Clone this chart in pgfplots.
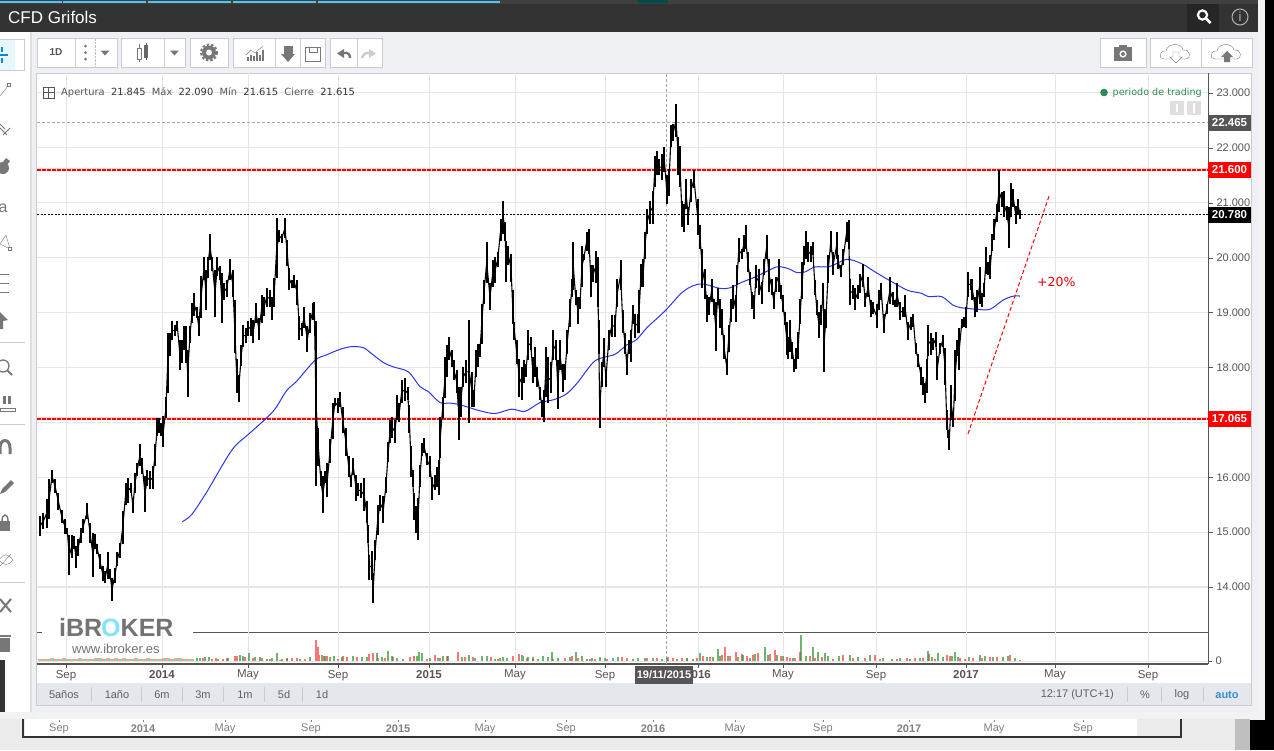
\documentclass[border=0pt]{standalone}
\usepackage{fontspec}
\usepackage{pgfplots}
\usepackage{pgfplotstable}
\pgfplotsset{compat=1.18}
\setmainfont{Liberation Sans}
\newfontfamily\dejavu{DejaVu Sans}
\newcommand\fs[1]{\fontsize{#1}{#1}\selectfont}

\definecolor{topbar}{HTML}{333333}
\definecolor{panelbg}{HTML}{EEF0F4}
\definecolor{btnline}{HTML}{C9CBCF}
\definecolor{icon}{HTML}{777777}
\definecolor{gridc}{HTML}{E6E6E6}
\definecolor{axisc}{HTML}{555555}
\definecolor{rangebar}{HTML}{E4E7EC}
\definecolor{mablue}{HTML}{2A35F0}
\definecolor{volred}{HTML}{FF3A3A}
\definecolor{volgreen}{HTML}{2F9632}
\definecolor{tradegreen}{HTML}{2E8B57}
\definecolor{cyanlogo}{HTML}{7FE3FA}

% daily range of the price, x is the position on the time axis
\pgfplotstableread{
x lo hi
40 14.93 15.29
43.3 15.05 15.35
46.7 15.08 15.60
49 15.23 15.96
52 15.90 16.14
55 15.72 15.96
58.3 15.41 15.72
61.7 15.17 15.41
65 14.96 15.23
67.3 14.96 15.08
69.3 14.22 14.94
71.7 14.53 14.94
74 14.69 14.93
76 14.35 14.75
78.3 14.57 14.87
80.7 14.81 15.08
83.3 14.99 15.23
87.3 15.23 15.53
90 14.81 15.17
93 14.18 14.99
95 14.69 14.96
97.3 14.60 14.78
100 14.32 14.60
102.7 14.11 14.38
105.3 14.08 14.29
107.7 14.14 14.64
110 14.14 14.32
112 13.75 14.17
115 14.08 14.35
117.3 14.38 14.63
120 14.53 14.81
122.7 14.78 15.38
125.7 15.50 15.90
128.3 15.53 15.99
130.7 15.72 15.90
133 15.34 15.63
135 15.72 16.08
137.3 16.02 16.26
140 16.20 16.61
142.3 16.05 16.35
145 15.37 16.02
147.3 15.84 16.14
150 15.78 16.11
152.7 15.78 16.20
155 16.20 16.60
157.3 16.75 17.08
159.3 16.81 17.08
161.3 16.75 16.99
163.3 16.55 17.11
166 17.08 17.47
167.7 17.54 18.63
170 18.20 18.63
172.3 18.50 18.84
175 18.57 18.78
177.3 18.66 18.84
180 17.96 18.50
182.3 18.08 18.50
184 18.32 18.75
186 18.08 18.75
187.7 17.47 18.32
190 18.44 18.75
192 18.81 19.17
194.3 18.93 19.35
196.7 18.90 19.11
198.7 18.57 18.93
201 18.90 19.66
204 19.60 20.02
205.7 19.05 19.78
207.7 19.63 20.02
210 19.96 20.44
212.3 19.75 20.02
215 18.92 19.78
217.3 19.66 20.02
220 19.60 19.84
221.7 18.81 19.72
224 19.23 19.53
226.7 19.29 19.60
230 19.60 19.97
232.7 19.29 19.78
234.7 18.26 19.23
236.7 17.53 18.15
238.7 17.37 17.87
241.3 18.02 18.41
243.3 18.38 18.78
245.7 18.44 18.72
248.3 18.57 18.84
250.7 18.57 18.90
253.3 18.44 18.87
256 18.81 19.17
259 18.50 18.90
261.7 18.81 19.32
264 18.93 19.29
266.7 19.11 19.44
270 19.11 19.41
272.3 18.87 19.29
274.3 19.11 19.63
276.7 19.63 20.72
279.3 20.29 20.50
281.7 20.26 20.44
285 20.35 20.72
287.3 19.84 20.32
289.3 19.41 19.81
291.7 19.44 19.60
294 19.44 19.69
297.3 19.14 19.60
299.3 18.50 18.93
301.7 18.57 18.81
304 18.72 19.11
307.3 18.28 18.75
310 18.63 18.99
312.7 18.87 19.17
314.3 18.96 19.20
316 15.84 18.84
318.3 16.20 16.90
320.7 15.84 16.11
322.7 15.35 16.02
325.3 15.90 16.11
327.3 15.64 16.26
330 16.26 16.69
332.7 16.69 17.35
335 17.29 17.44
337.7 17.17 17.44
340 17.28 17.56
342.7 16.80 17.28
346 16.38 16.89
348.7 16.01 16.38
350.7 15.83 16.04
353.3 16.04 16.35
356 15.56 16.04
358.3 15.65 15.89
360.7 15.62 15.89
364 15.38 15.98
366.7 15.16 15.56
367.7 14.80 15.13
369.3 14.13 14.59
371.7 14.13 14.65
373.3 13.71 14.25
375.3 14.50 14.86
377.7 14.95 15.50
380 15.38 15.68
383.3 15.16 15.65
386 15.71 16.01
388.3 16.28 16.65
390 16.62 17.04
392.3 16.71 17.10
395 16.62 17.04
397.3 17.04 17.50
399.3 17.01 17.35
401.7 17.35 17.77
405 17.38 17.80
407.7 17.41 17.65
409.3 16.80 17.32
411 16.01 16.56
412.7 15.83 16.13
414 15.22 15.71
416 14.98 15.47
418 14.86 15.62
420 15.83 16.22
422 16.38 16.62
424 16.44 16.71
426.7 16.22 16.44
430 16.01 16.38
432.3 15.59 16.01
435 15.77 16.04
437.3 15.83 16.19
439 15.68 16.31
440.3 16.35 17.10
442.7 17.07 17.47
445 17.44 18.19
446.7 17.83 18.40
449 18.13 18.56
451.7 18.01 18.31
454 17.77 18.13
456.7 17.53 17.95
458.7 16.68 17.65
460.7 17.10 17.65
463.3 17.65 18.01
466 17.71 18.13
469.3 16.98 18.86
471.7 17.28 17.92
474 17.28 17.59
476 17.83 18.31
478.3 18.01 18.43
480 18.19 18.43
481.7 18.43 19.16
484 19.16 19.59
486.7 19.53 20.28
490 19.04 19.53
492.7 19.47 19.95
495 19.53 20.01
497.7 19.83 20.10
500.7 20.31 20.71
503.3 20.44 21.04
505 20.31 20.65
506 19.56 20.31
508.3 19.86 20.22
511 19.56 20.07
512.7 18.80 19.41
514.3 18.50 18.83
516.7 18.07 18.50
519.3 17.47 18.16
521.7 17.41 18.01
524 17.71 18.13
526 17.83 18.07
528.3 18.13 18.68
530.7 18.31 18.56
532.7 17.71 18.19
535 17.83 18.37
537.3 17.65 18.01
540 17.41 17.65
542.3 17.10 17.41
544 17.01 17.59
545.7 17.47 18.37
548.3 17.35 18.19
550.7 17.53 18.10
553.3 18.13 18.68
556 18.13 18.50
557.7 17.25 18.13
560 17.95 18.50
562.7 17.56 18.07
565 17.77 18.07
567.3 18.25 18.68
570 18.74 19.25
571.7 19.28 19.62
573.3 19.41 20.28
575.7 19.13 19.41
578 18.80 19.28
580 19.07 19.28
582 19.47 20.22
584 19.95 20.07
586.7 20.13 20.47
589 20.07 20.53
591 19.28 19.86
593.3 19.56 19.86
595.7 19.53 20.13
597.7 19.10 20.01
598.7 18.25 18.86
599.7 16.89 17.59
601.7 17.65 18.10
603.7 18.01 18.53
606 17.65 17.98
608.7 18.31 18.68
611.7 18.56 18.95
615 18.56 18.95
617.3 19.10 19.62
620.7 19.41 19.96
622.7 18.62 19.04
625 18.25 18.62
626.7 17.86 18.25
628.7 18.25 18.50
630.7 18.10 18.68
632.7 18.80 19.13
635 18.53 18.98
637.7 18.62 18.98
639 18.62 19.41
641 19.47 19.89
643.3 19.47 19.98
645 19.98 20.47
647.3 20.44 20.89
650 20.62 21.04
652.7 20.62 21.22
654.7 21.29 21.86
656.7 21.50 21.95
659.3 21.50 21.80
661.7 21.41 21.89
664.3 21.56 22.01
666.7 20.98 21.50
669 21.13 21.62
671 22.01 22.41
673.3 22.13 22.44
676 22.19 22.80
678.3 21.50 22.19
680 21.29 22.04
682 20.56 21.04
684 20.47 20.98
686 20.89 21.44
688.3 20.59 20.92
691 21.01 21.44
694 21.26 21.59
697.7 20.41 21.07
700 20.16 20.59
702.3 19.44 20.16
705 19.25 19.80
707.3 18.83 19.32
709.3 18.95 19.29
711.7 19.20 19.62
714 18.95 19.25
715.7 18.30 19.19
717.7 19.13 19.44
720 18.71 19.25
722 18.59 19.07
724 18.16 18.59
726.7 17.86 18.16
728.7 18.29 18.77
731 18.83 19.25
733.3 19.07 19.50
735.7 18.82 19.32
737.3 19.50 19.86
738.7 19.92 20.35
741.7 19.98 20.16
744 20.10 20.41
745.7 20.16 20.59
747.7 19.74 20.10
750 19.50 19.74
752 19.07 19.38
754 18.89 19.32
756 19.44 19.86
759 19.32 19.80
761.7 19.16 19.56
764 19.68 19.98
766.7 19.98 20.41
769 19.38 19.98
771.7 19.32 19.62
773.7 19.06 19.38
776 19.38 19.65
778.7 19.38 19.98
780.7 19.25 19.50
782.7 19.01 19.32
784.7 18.77 19.01
786.7 18.23 18.83
788.3 18.16 18.56
790.3 18.29 18.86
792.3 18.16 18.47
794.3 17.92 18.16
796.3 17.98 18.35
798.3 18.16 18.65
800.3 18.80 19.25
802.3 19.25 19.92
804.3 19.86 20.22
806 19.98 20.48
808.3 19.92 20.29
810.7 19.92 20.22
812.7 20.04 20.29
815 19.32 19.59
816.7 18.95 19.23
819 18.53 19.01
821.3 18.77 19.13
823.3 19.20 19.53
824.3 17.92 19.07
826 18.71 19.07
828.3 19.53 20.04
830.7 20.10 20.48
833.3 19.68 20.10
836.7 19.98 20.46
838.3 19.80 20.04
840.7 19.65 19.86
843.3 19.86 20.16
846.7 20.29 20.65
848.7 20.16 20.68
850 19.13 19.62
853.3 19.25 19.50
855.3 19.04 19.44
858 19.25 19.50
860 19.35 19.71
862.7 19.47 19.89
865.3 19.10 19.35
868.3 19.29 19.65
870.7 18.92 19.22
873.3 18.98 19.19
876.7 18.71 19.16
878.7 19.04 19.41
881.3 19.23 19.53
883.7 18.62 18.98
886.7 18.98 19.16
890 19.16 19.65
892.7 19.13 19.38
895 19.10 19.23
897.3 19.10 19.53
900 18.86 19.19
902.7 18.92 19.10
905 18.92 19.32
907.7 18.50 18.83
910.7 18.68 18.92
913.3 18.74 18.98
915.7 18.25 18.44
918.3 18.01 18.25
921 17.68 18.01
923.3 17.50 17.83
924.7 17.35 17.71
926.7 17.53 18.16
928.3 18.20 18.77
930.7 18.23 18.62
933.3 18.32 18.53
935.7 18.38 18.65
937.3 17.77 18.20
940 18.25 18.44
942.7 18.38 18.59
945 17.68 18.35
946.7 16.86 17.23
948.3 16.71 16.86
949.3 16.49 16.86
951 17.04 17.68
953.3 16.92 17.16
955 17.38 18.32
957.3 18.20 18.50
959.3 17.95 18.71
961.7 18.71 18.89
964 18.74 18.92
966 18.71 19.10
968.3 19.29 19.74
970.7 19.41 19.62
972.3 19.23 19.62
975 18.92 19.29
977.3 19.01 19.41
979.7 19.16 19.83
981.7 19.10 19.35
984 19.29 19.53
986 19.71 20.19
988.3 19.68 19.92
990.3 19.62 20.04
992.3 20.13 20.44
994.3 20.32 20.71
996.7 20.65 20.98
999 20.83 21.59
1001.7 20.92 21.19
1004 20.74 21.22
1006.7 20.68 20.95
1009 20.18 20.92
1011 20.74 21.36
1013.3 20.92 21.25
1015.7 20.62 20.95
1018.3 20.80 21.07
1020 20.71 20.86
}\bars

% moving average
\pgfplotstableread{
x y
182.3 15.19
191.7 15.32
206.7 15.73
231.7 16.49
248.3 16.78
266.7 17.08
275.7 17.26
286.7 17.58
296.7 17.75
315 18.13
326.7 18.23
340 18.33
351.7 18.38
363.3 18.36
371.7 18.25
383.3 18.09
393.3 18.01
408.3 17.92
420 17.65
428.3 17.56
440 17.36
450 17.35
460 17.32
480 17.21
495 17.16
511.7 17.24
525 17.20
540 17.36
553.3 17.41
566.7 17.52
578.3 17.74
595 18.12
615 18.24
626.7 18.41
636.7 18.51
646.7 18.72
665 19.03
681.7 19.36
693.3 19.49
703.3 19.52
720 19.44
730 19.45
741.7 19.55
756.7 19.66
776.7 19.83
788.3 19.80
796.7 19.73
805 19.74
815 19.83
830 19.84
846.7 19.97
861.7 19.89
873.3 19.76
883.3 19.65
896.7 19.51
908.3 19.40
921.7 19.35
928.3 19.29
941.7 19.29
953.3 19.13
960 19.09
976.7 19.06
990 19.06
1003.3 19.23
1013.3 19.30
1020 19.30
}\ma

% volume bars, no scale is readable so heights are in chart pixels
\pgfplotstableread{
x v
197 3
200 3
205 4
209 4
218 2
228 3
240 6
243 5
249 8
255 4
260 4
267 2
272 3
277 8
282 2
287 2
300 2
310 4
322 6
325 5
330 4
334 5
342 4
353 5
362 4
367 4
377 8
382 4
388 10
392 5
397 3
403 2
417 5
419 9
422 8
430 3
438 3
443 5
448 5
462 4
469 6
475 3
482 5
487 5
495 2
500 3
503 4
507 3
522 6
523 5
528 4
533 4
538 2
543 5
548 4
552 9
558 3
570 4
576 9
582 5
587 2
592 3
600 4
605 3
613 3
618 4
633 2
638 3
645 3
653 3
662 2
667 3
677 2
687 3
693 2
700 8
707 4
713 4
718 12
720 5
728 5
738 4
743 6
750 3
755 7
765 14
768 6
777 6
783 5
793 3
801 26
806 5
813 14
818 9
825 8
828 5
839 5
850 6
858 4
870 6
883 3
892 2
900 3
910 2
920 3
928 10
932 4
938 8
943 4
952 5
955 9
958 4
969 4
980 6
985 5
993 4
1003 4
1008 5
1015 3
}\volup
\pgfplotstableread{
x v
203 3
212 2
216 3
223 2
227 3
235 5
237 5
245 4
253 3
262 3
270 2
280 1
287 3
292 3
297 3
305 2
316 21
318 14
319 6
324 5
327 5
338 2
343 5
347 4
357 4
369 7
373 8
378 3
385 3
393 4
410 4
414 5
427 2
435 6
440 3
447 5
458 9
465 4
473 4
491 4
498 2
513 5
519 7
527 3
533 2
553 2
565 3
572 5
578 3
590 2
595 2
607 2
622 4
627 3
647 3
657 3
668 4
673 3
682 3
687 3
697 3
703 5
710 4
722 6
725 14
730 5
736 9
742 7
747 5
753 6
758 8
770 7
775 11
781 5
787 4
790 3
795 3
800 9
810 5
815 3
822 4
833 2
843 6
853 3
865 3
875 6
880 2
897 2
907 3
915 3
923 3
929 7
935 2
947 6
950 5
960 3
965 2
973 3
982 3
990 4
997 4
1010 6
1020 1
}\voldown
% the first months lie under the logo and show pale
\pgfplotstableread{
x v
39 2
43 2
47 2
51 3
55 2
59 2
63 3
67 2
71 2
75 2
79 3
83 2
87 2
91 2
95 3
99 3
103 2
107 3
111 2
115 3
119 2
123 3
127 2
131 2
135 3
139 2
143 2
147 3
151 2
155 2
159 2
163 3
167 3
171 2
175 3
179 3
183 2
187 2
191 2
}\volpale

\begin{document}
\begin{tikzpicture}
\path[use as bounding box] (0pt,0pt) rectangle (1274pt,-750pt);

% page behind the chart
\begin{scope}[x=1pt,y=-1pt]
\fill[black] (0,0) rectangle (1274,750);
\fill[white!92!black] (0,719) rectangle (1235,750);
\fill[gray!50] (1235,719) rectangle (1250,750);
\fill[white!90!gray] (1250,0) rectangle (1265,720);
\fill[panelbg] (0,32) rectangle (1258,712);
\fill[white!90!gray] (0,712) rectangle (1258,719);
\fill[topbar] (0,4) rectangle (1258,32);
\fill[black!85] (1187,4) rectangle (1219,32);
\fill[black!75] (0,0) rectangle (1258,4);
\foreach \a/\b in {0/62,63/146,148/231,233/316,318/500} \fill[cyan!70!white] (\a,1) rectangle (\b,2.5);
\fill[teal!60!black] (638,0) rectangle (668,3);
\node[anchor=west,text=white,inner sep=0] at (8,17.5) {\fs{17}CFD Grifols};
\draw[white,line width=2.2] (1202.5,15) circle (4.6);
\draw[white,line width=2.6] (1206,18.5) -- (1210.5,23);
\draw[gray!60,line width=1] (1240,17) circle (8);
\node[text=gray!60] at (1240,17) {\fs{13}i};

% left tools
\fill[white] (0,32) rectangle (30,712);
\fill[gray!25] (30,32) rectangle (32,712);
\fill[panelbg] (32,32) rectangle (37,719);
\draw[btnline] (-1,39) rectangle (24,70);
\fill[white!90!cyan] (0,39.5) rectangle (15,69.5);
\draw[cyan!70!blue,line width=1.4] (0,55) -- (8,55) (2,47) -- (2,52) (2,58) -- (2,63);
\draw[icon] (0,96) -- (8,86); \draw[icon] (7,83) rectangle (10,86);
\draw[icon,line width=.8] (0,128) -- (7,135) (3,135) -- (10,128) (0,124) -- (5,129);
\fill[icon] (3,168) circle (6); \fill[icon] (6,158) -- (10,161) -- (7,165) -- (3,162) -- cycle;
\node[text=icon] at (3,208) {\fs{16}a};
\draw[icon] (0,244) -- (6,235) -- (10,249) -- cycle; \draw[icon,fill=white] (8,247) rectangle (11,250);
\draw[icon,line width=.9] (0,274) -- (9,274) (0,283) -- (9,283) (0,292) -- (9,292);
\fill[icon] (0,312) -- (8,320) -- (3,321) -- (3,329) -- (0,329) -- cycle;
\draw[btnline] (0,342) -- (25,342);
\draw[icon,line width=1.3] (3,366) circle (6); \draw[icon,line width=2] (7.5,370.5) -- (12,375);
\fill[icon] (3,396) rectangle (6,404); \fill[icon] (8,396) rectangle (11,404);
\draw[icon] (0,408) rectangle (15,411);
\draw[btnline] (0,424) -- (25,424);
\draw[icon,line width=3] (0,454) -- (0,448) .. controls (0,438) and (10,438) .. (10,448) -- (10,454);
\fill[icon] (2,489) -- (11,480) -- (14,483) -- (5,492) -- (0,494) -- cycle;
\fill[icon] (0,521) rectangle (10,531); \draw[icon,line width=1.4] (2,521) .. controls (2,513) and (8,513) .. (8,521);
\draw[icon] (-1,560) .. controls (4,553) and (8,553) .. (13,560) .. controls (8,566) and (4,566) .. (-1,560); \draw[icon] (0,566) -- (11,554);
\draw[btnline] (0,582) -- (25,582);
\draw[icon,line width=2] (0,599) -- (11,612) (11,599) -- (0,612);
\fill[icon] (0,638) rectangle (10,652); \fill[icon] (-1,635) rectangle (11,637);
\fill[topbar] (0,660) rectangle (5,712);

% toolbar buttons
\foreach \a/\b in {37/117,121/185,190/228,233/325,330/382,1100/1146,1150/1252}
  \draw[btnline,fill=white,line width=1] (\a,38.5) rectangle (\b,67);
\foreach \a in {75,164,275,300,357,1201} \draw[btnline] (\a,38.5) -- (\a,67);
\node[text=axisc] at (56,52.5) {\fs{10}\textbf{1D}};
\foreach \y in {46,52.5,59} \fill[icon] (85.5,\y) circle (1.5);
\draw[gray!50,densely dotted] (95,39) -- (95,67);
\foreach \a in {105,174.5} \fill[icon] (\a-4.5,50.5) -- (\a+4.5,50.5) -- (\a,55.5) -- cycle;
\draw[icon] (139,44) -- (139,62); \draw[icon,fill=white] (137,48) rectangle (141,59);
\draw[black!70] (146,43) -- (146,60); \fill[black!60] (144,45) rectangle (148,58);
\fill[icon] (209,52.5) circle (7); \draw[icon,line width=2,dash pattern=on 2.4 off 2] (209,52.5) circle (8);
\fill[white] (209,52.5) circle (3);
\foreach \a/\h in {247/4,250/6,253/5,256/9,259/6,262/11} \fill[icon] (\a,61) rectangle (\a+2,61-\h);
\draw[icon] (246,55) -- (251,50) -- (255,53) -- (263,46);
\fill[icon] (283.5,46) rectangle (292.5,54); \fill[icon] (281,54) -- (295,54) -- (288,62) -- cycle;
\draw[icon,line width=1] (305.5,47) rectangle (320.5,61); \draw[icon] (309,47) rectangle (317,52);
\fill[icon] (337,53.5) -- (344,49) -- (344,58) -- cycle; \draw[icon,line width=2.4] (343,53) .. controls (349,52) and (350,55) .. (350,58);
\fill[gray!40] (376,53.5) -- (369,49) -- (369,58) -- cycle; \draw[gray!40,line width=2.4] (370,53) .. controls (365,52) and (363,55) .. (362,58);
\fill[icon] (1114,47) rectangle (1132,61); \fill[icon] (1119,45) rectangle (1127,48); \fill[white] (1123,54) circle (3.6); \fill[icon] (1123,54) circle (2);
\foreach \c in {1176,1227} {
  \draw[icon,fill=white] (\c-12,59) .. controls (\c-18,59) and (\c-17,50) .. (\c-10,51) .. controls (\c-8,42) and (\c+6,43) .. (\c+7,50) .. controls (\c+15,49) and (\c+15,59) .. (\c+10,59) -- cycle;
}
\draw[icon,fill=white] (1173,52) -- (1179,52) -- (1179,57) -- (1182,57) -- (1176,63) -- (1170,57) -- (1173,57) -- cycle;
\fill[icon] (1224,62) -- (1230,62) -- (1230,57) -- (1233,57) -- (1227,51) -- (1221,57) -- (1224,57) -- cycle;

% chart area and range bar
\fill[white] (37,73) rectangle (1250.5,683);
\fill[rangebar] (37,683) rectangle (1250.5,705);
\draw[btnline] (36.5,73) rectangle (1251,705.5);
\end{scope}

% price panel
\begin{axis}[
  at={(37pt,-632pt)}, anchor=south west,
  scale only axis, width=1171pt, height=559pt,
  xmin=37, xmax=1208, ymin=13.18, ymax=23.364,
  axis y line=right, axis x line=bottom,
  axis line style={-,draw=axisc,line width=1pt},
  xtick={66,162,248,338,429,515,605,698,783,876,966,1055,1148},
  xticklabels={},
  xtick style={draw=none},
  ytick={14,15,16,17,18,19,20,21,22,23},
  yticklabels={14.000,15.000,16.000,,18.000,19.000,20.000,21.000,22.000,23.000},
  yticklabel style={font=\fs{11},text=axisc},
  ytick style={draw=axisc},
  tick align=outside, major tick length=5pt,
  xmajorgrids, ymajorgrids,
  grid style={gridc,line width=1pt},
  clip=true,
]
\addplot[gray!70,line width=.7pt,dash pattern=on 3pt off 2pt] coordinates {(666,13.18)(666,23.364)};
\addplot[gray!70,line width=.7pt,dash pattern=on 3pt off 2pt] coordinates {(37,22.465)(1208,22.465)};
\addplot[red!30,line width=3pt,opacity=.6] coordinates {(37,21.6)(1208,21.6)};
\addplot[red!30,line width=3pt,opacity=.6] coordinates {(37,17.065)(1208,17.065)};
\addplot[red,line width=1.6pt,dash pattern=on 3.5pt off 1.5pt] coordinates {(37,21.6)(1208,21.6)};
\addplot[red,line width=1.6pt,dash pattern=on 3.5pt off 1.5pt] coordinates {(37,17.065)(1208,17.065)};
\addplot[black,line width=1pt,dash pattern=on 2pt off 1.5pt] coordinates {(37,20.78)(1208,20.78)};
\addplot[mablue,line width=1pt,smooth] table[x=x,y=y] {\ma};
\addplot[black,line width=1.1pt] table[x=x,y expr=(\thisrow{lo}+\thisrow{hi})/2] {\bars};
\addplot[draw=none,mark=none,error bars/.cd,y dir=plus,y explicit,error mark=none,
  error bar style={black,line width=1.9pt}]
  table[x=x,y=lo,y error plus expr=\thisrow{hi}-\thisrow{lo}] {\bars};
\addplot[red,line width=1pt,dash pattern=on 4pt off 2.5pt] coordinates {(968,16.79)(1049,21.12)};
\end{axis}

% logo sits on the grid
\begin{scope}[x=1pt,y=-1pt]
\fill[white] (42,616) rectangle (193,656);
\node[anchor=west,inner sep=0,text=gray!90!black] at (59,627.5) {\fs{25}\textbf{iBR}};
\node[anchor=west,inner sep=0,text=cyanlogo] at (101,627.5) {\fs{25}\textbf{O}};
\node[anchor=west,inner sep=0,text=gray!90!black] at (120.5,627.5) {\fs{25}\textbf{KER}};
\node[anchor=west,inner sep=0,text=gray!90!black] at (72,648.5) {\fs{13}www.ibroker.es};
\end{scope}

% volume panel with the date axis
\begin{axis}[
  at={(37pt,-664pt)}, anchor=south west,
  scale only axis, width=1171pt, height=32pt,
  xmin=37, xmax=1208, ymin=-3, ymax=29,
  axis y line=right, axis x line=bottom,
  axis line style={-,draw=axisc,line width=1.2pt},
  y axis line style={line width=1pt},
  xtick={66,162,248,338,429,515,605,698,783,876,966,1055,1148},
  xticklabels={Sep,\textbf{2014},May,Sep,\textbf{2015},May,Sep,\textbf{2016},May,Sep,\textbf{2017},May,Sep},
  xticklabel style={font=\fs{11.5},text=axisc,yshift=1.5pt},
  ytick={0},
  yticklabels={0},
  yticklabel style={font=\fs{11},text=axisc},
  tick style={draw=axisc},
  tick align=outside, major tick length=4pt,
  xmajorgrids, grid style={gridc,line width=1pt},
  clip=true,
]
\addplot[gridc,line width=1pt] coordinates {(37,0)(1208,0)};
\addplot[gray!70,line width=.7pt,dash pattern=on 3pt off 2pt] coordinates {(666,-3)(666,29)};
\addplot[ycomb,volred!60!white,line width=2.6pt,opacity=.8] table[x=x,y=v] {\volpale};
\addplot[ycomb,volgreen!60!white,line width=2.6pt,opacity=.8] table[x expr=\thisrow{x}+2,y=v] {\volpale};
\addplot[ycomb,volred,line width=2.8pt,opacity=.7] table[x=x,y=v] {\voldown};
\addplot[ycomb,volgreen,line width=2.8pt,opacity=.7] table[x=x,y=v] {\volup};
\end{axis}

% texts and price tags on top
\begin{scope}[x=1pt,y=-1pt]
\draw[axisc,line width=.8] (43,87) rectangle (54,98);
\draw[axisc,line width=.8] (43,92.5) -- (54,92.5) (48.5,87) -- (48.5,98);
\node[anchor=west,inner sep=0] at (61,92.5) {\fs{9.9}\dejavu\textcolor{axisc}{Apertura}\ \ \textcolor{black!80}{21.845}\ \ \textcolor{axisc}{Máx}\ \ \textcolor{black!80}{22.090}\ \ \textcolor{axisc}{Mín}\ \ \textcolor{black!80}{21.615}\ \ \textcolor{axisc}{Cierre}\ \ \textcolor{black!80}{21.615}};
\fill[tradegreen] (1104,92.5) circle (3.8);
\node[anchor=east,inner sep=0,text=tradegreen] at (1202,92.5) {\fs{9.6}\dejavu periodo de trading};
\fill[gray!25] (1170,101) rectangle (1184,115);
\fill[gray!25] (1187,101) rectangle (1201,115);
\draw[white,line width=1.2] (1177,104) -- (1177,112) (1194,103) -- (1194,113);
\node[text=red!90!black,anchor=west,inner sep=0] at (1037,281.5) {\fs{12.5}\dejavu +20\%};
\foreach \y/\c/\t in {122.5/axisc/22.465,170/red/21.600,214.5/black/20.780,419/red/17.065} {
  \fill[\c] (1208,\y-8) rectangle (1251,\y+8);
  \node[text=white] at (1229.5,\y) {\fs{11.5}\textbf{\t}};
}
\fill[axisc] (635,666) rectangle (693,683.5);
\node[text=white] at (664,675) {\fs{11}\textbf{19/11/2015}};
\foreach \a/\t in {64/5años,117/1año,162/6m,203/3m,245/1m,284/5d,322/1d}
  \node[text=gray!75!black] at (\a,694.5) {\fs{11}\t};
\foreach \a in {91,141,182,223,264,302,1127,1161,1203} \draw[btnline] (\a,687) -- (\a,702);
\node[text=gray!75!black,anchor=east,inner sep=0] at (1114,694.5) {\fs{11}12:17 (UTC+1)};
\node[text=gray!75!black] at (1145,694.5) {\fs{11}\%};
\node[text=gray!75!black] at (1182,694.5) {\fs{11}log};
\node[text=cyan!60!blue!80!white] at (1227,694.5) {\fs{11}\textbf{auto}};

% second chart behind the window
\fill[white] (25,719) rectangle (1137,736);
\draw[black!80,line width=2] (23,719) -- (23,737) -- (1181,737) -- (1181,719);
\foreach \a/\t in {59/Sep,143/\textbf{2014},225/May,311/Sep,398/\textbf{2015},485/May,566/Sep,653/\textbf{2016},735/May,823/Sep,909/\textbf{2017},994/May,1083/Sep} {
  \node[text=gray] at (\a,729) {\fs{11}\t};
  \draw[gray] (\a,720) -- (\a,722);
}
\end{scope}
\end{tikzpicture}
\end{document}
